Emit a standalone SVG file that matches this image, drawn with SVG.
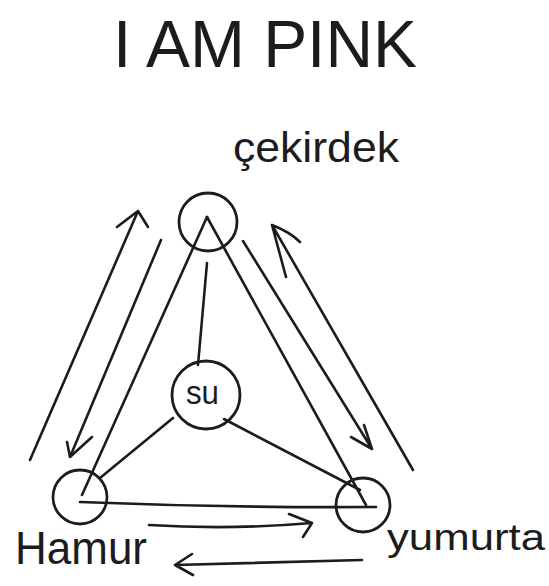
<svg xmlns="http://www.w3.org/2000/svg" width="549" height="586" viewBox="0 0 549 586">
<style>
  .ln{stroke:#1c1c1c;stroke-width:2.6;fill:none;stroke-linecap:round;stroke-linejoin:round}
  .node{stroke:#1c1c1c;stroke-width:2.8;fill:none}
  .txt{font-family:"Liberation Sans",Arial,sans-serif;fill:#1c1c1c}
</style>
<rect width="549" height="586" fill="#ffffff"/>
<text class="txt" x="113" y="67" font-size="66" textLength="304" lengthAdjust="spacingAndGlyphs">I AM PINK</text>
<g id="connectors">
  <line class="ln" x1="207" y1="217" x2="82" y2="495"/>
  <line class="ln" x1="207" y1="217" x2="366" y2="505"/>
  <path class="ln" d="M80 502 Q230 508 376 507"/>
  <line class="ln" x1="207" y1="263" x2="198" y2="365"/>
  <line class="ln" x1="173" y1="418" x2="100" y2="478"/>
  <line class="ln" x1="224" y1="419" x2="360" y2="490"/>
  <path class="ln" d="M30 460 L138 211 M117 227 L138 211 L148 227"/>
  <path class="ln" d="M161 240 L70 457 M67 442 L70 457 L92 437"/>
  <path class="ln" d="M243 241 L372 449 M351 437 L372 449 L364 425"/>
  <path class="ln" d="M413 470 L272 225 M286 277 L272 225 Q290 232 300 242"/>
  <path class="ln" d="M149 525 Q230 530 312 523 M289 514 L312 523 L303 537"/>
  <path class="ln" d="M362 560 L175 565 M192 554 L175 565 L193 575"/>
</g>
<g id="node-cekirdek">
  <circle class="node" cx="208" cy="222" r="29"/>
  <text class="txt" x="233" y="162" font-size="42" textLength="166" lengthAdjust="spacingAndGlyphs">çekirdek</text>
</g>
<g id="node-su">
  <circle class="node" cx="206" cy="395" r="34"/>
  <text class="txt" x="186" y="404" font-size="34" textLength="33" lengthAdjust="spacingAndGlyphs">su</text>
</g>
<g id="node-hamur">
  <circle class="node" cx="80" cy="497" r="27"/>
  <text class="txt" x="15" y="564" font-size="46" textLength="132" lengthAdjust="spacingAndGlyphs">Hamur</text>
</g>
<g id="node-yumurta">
  <circle class="node" cx="363" cy="505" r="27"/>
  <text class="txt" x="387" y="550" font-size="36" textLength="158" lengthAdjust="spacingAndGlyphs">yumurta</text>
</g>
</svg>
